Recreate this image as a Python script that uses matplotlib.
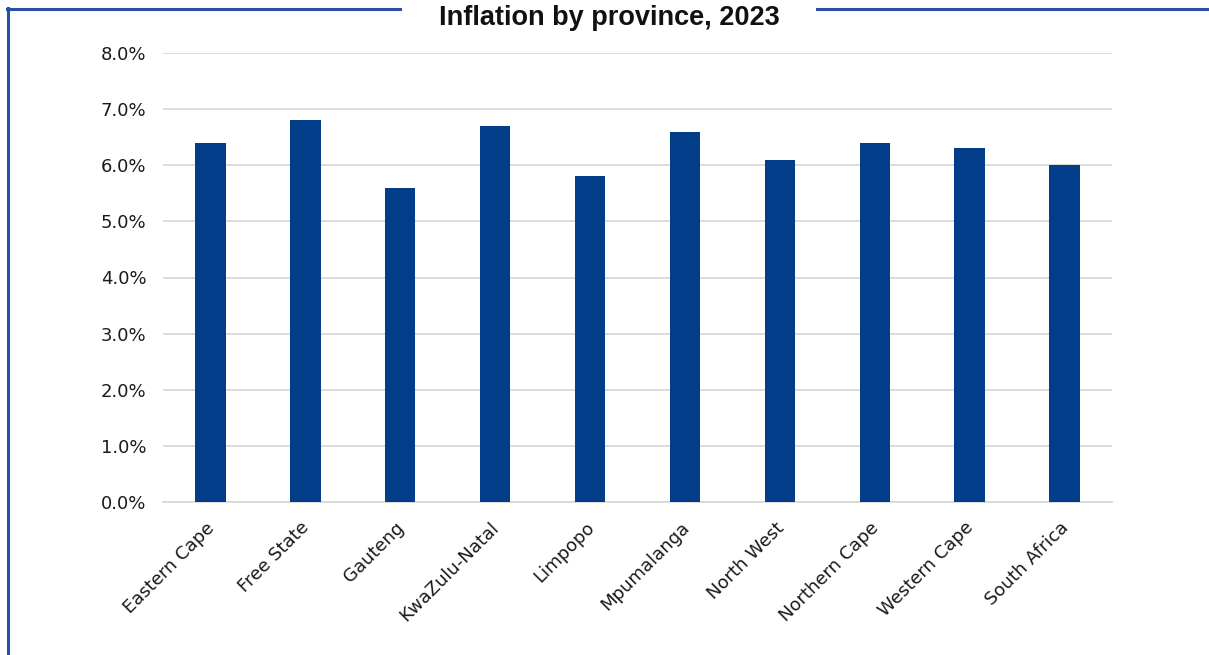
import matplotlib
matplotlib.use("Agg")
import matplotlib.pyplot as plt
import matplotlib.transforms as mtransforms
from matplotlib.lines import Line2D
from matplotlib.ticker import PercentFormatter

categories = ["Eastern Cape", "Free State", "Gauteng", "KwaZulu-Natal", "Limpopo",
              "Mpumalanga", "North West", "Northern Cape", "Western Cape", "South Africa"]
inflation = [6.4, 6.8, 5.6, 6.7, 5.8, 6.6, 6.1, 6.4, 6.3, 6.0]
title = "Inflation by province, 2023"

plt.rcParams["font.family"] = ["DejaVu Sans"]

W, H = 1209, 655
fig = plt.figure(figsize=(W / 100, H / 100), dpi=100)
ax = fig.add_axes([163 / W, 1 - 502 / H, (1112 - 163) / W, (502 - 53) / H])

x = range(len(categories))
ax.bar(x, inflation, width=0.32, color="#023d8a", zorder=3)
ax.set_xlim(-0.5, len(categories) - 0.5)
ax.set_ylim(0, 8)
ax.set_yticks([i for i in range(9)])
ax.yaxis.set_major_formatter(PercentFormatter(decimals=1))
ax.grid(axis="y", color="#d9d9d9", linewidth=1.3, zorder=0)
for s in ["top", "right", "left"]:
    ax.spines[s].set_visible(False)
ax.spines["bottom"].set_color("#d9d9d9")
ax.spines["bottom"].set_linewidth(1.3)
ax.tick_params(axis="both", length=0, labelsize=13, colors="#1a1a1a")
ax.tick_params(axis="y", pad=12)
ax.set_xticks(list(x))
ax.set_xticklabels(categories, rotation=45, ha="right", rotation_mode="anchor")
ax.tick_params(axis="x", pad=12)
offset = mtransforms.ScaledTranslation(-5 / 100, 0, fig.dpi_scale_trans)
for lbl in ax.get_xticklabels():
    lbl.set_transform(lbl.get_transform() + offset)

# frame lines
blue = "#2a4fa8"
fig.add_artist(Line2D([7 / W, 400 / W], [1 - 8.5 / H, 1 - 8.5 / H], color=blue, lw=2.2))
fig.add_artist(Line2D([817 / W, 1], [1 - 8.5 / H, 1 - 8.5 / H], color=blue, lw=2.2))
fig.add_artist(Line2D([7.5 / W, 7.5 / W], [1 - 7.5 / H, 0], color=blue, lw=2.2))

fig.text(609 / W, 1 - 25 / H, title, ha="center", va="baseline",
         fontsize=19.5, fontweight="bold", family="Liberation Sans", color="#111111")

fig.savefig("out.png", dpi=100)
